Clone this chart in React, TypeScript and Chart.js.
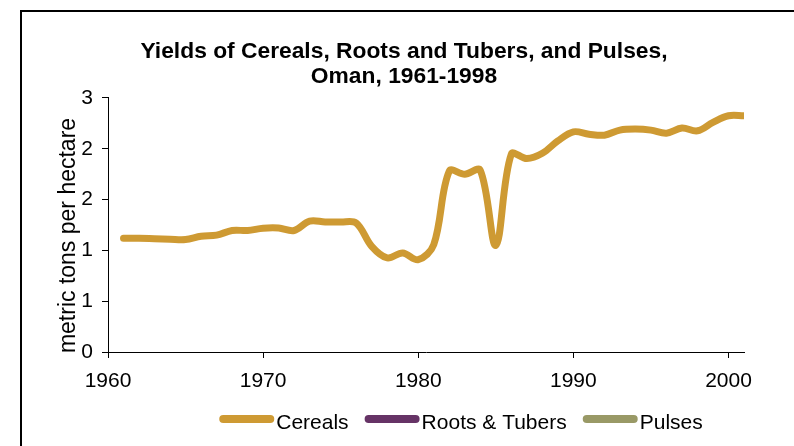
import React, { useEffect, useRef } from "react";
import { Chart, registerables } from "chart.js";

Chart.register(...registerables);

const TITLE_LINES = ["Yields of Cereals, Roots and Tubers, and Pulses,", "Oman, 1961-1998"];
const Y_TITLE = "metric tons per hectare";

const YEARS = [
  1961, 1962, 1963, 1964, 1965, 1966, 1967, 1968, 1969, 1970,
  1971, 1972, 1973, 1974, 1975, 1976, 1977, 1978, 1979, 1980,
  1981, 1982, 1983, 1984, 1985, 1986, 1987, 1988, 1989, 1990,
  1991, 1992, 1993, 1994, 1995, 1996, 1997, 1998, 1999, 2000, 2001,
];

const CEREALS = [
  1.12, 1.12, 1.115, 1.11, 1.107, 1.14, 1.15, 1.196, 1.196, 1.218,
  1.22, 1.196, 1.288, 1.28, 1.28, 1.27, 1.04, 0.926, 0.975, 0.909,
  1.057, 1.78, 1.749, 1.788, 1.05, 1.947, 1.904, 1.956, 2.078, 2.167,
  2.144, 2.134, 2.184, 2.194, 2.184, 2.154, 2.204, 2.177, 2.26, 2.325, 2.325,
];
const ROOTS_TUBERS: number[] = [];
const PULSES: number[] = [];

const SERIES_LABELS = ["Cereals", "Roots & Tubers", "Pulses"];
const SERIES_COLORS = ["#CE9A33", "#663366", "#999966"];

const X_MIN = 1960;
const X_MAX = 2001;
const Y_MAX = 2.5;
const Y_STEP = 0.5;

const FONT = '"Liberation Sans", Arial, sans-serif';

const decorPlugin = {
  id: "decor",
  afterDraw(chart: any) {
    const ctx = chart.ctx as CanvasRenderingContext2D;
    ctx.save();
    // y-axis title
    ctx.fillStyle = "#000";
    ctx.font = `23px ${FONT}`;
    ctx.translate(75, 235.5);
    ctx.rotate(-Math.PI / 2);
    ctx.textAlign = "center";
    ctx.textBaseline = "alphabetic";
    ctx.fillText(Y_TITLE, 0, 0);
    ctx.restore();

    // legend
    ctx.save();
    ctx.font = `21px ${FONT}`;
    const sample = 55;
    const textGap = 2;
    const itemGap = 16;
    const items = chart.data.datasets.map((ds: any) => ({
      text: ds.label as string,
      color: ds.borderColor as string,
      w: ctx.measureText(ds.label).width,
    }));
    const total =
      items.reduce((s: number, it: any) => s + sample + textGap + it.w, 0) +
      itemGap * (items.length - 1);
    let x = 461 - total / 2;
    const cy = 419;
    for (const it of items) {
      ctx.strokeStyle = it.color;
      ctx.lineWidth = 8;
      ctx.lineCap = "round";
      ctx.beginPath();
      ctx.moveTo(x + 4, cy);
      ctx.lineTo(x + sample - 4, cy);
      ctx.stroke();
      ctx.fillStyle = "#000";
      ctx.textAlign = "left";
      ctx.textBaseline = "alphabetic";
      ctx.fillText(it.text, x + sample + textGap, 428.5);
      x += sample + textGap + it.w + itemGap;
    }
    ctx.restore();
  },
};

export default function App() {
  const canvasRef = useRef<HTMLCanvasElement | null>(null);

  useEffect(() => {
    if (!canvasRef.current) return;
    const toPoints = (vals: number[]) => vals.map((v, i) => ({ x: YEARS[i], y: v }));
    const chart = new Chart(canvasRef.current, {
      type: "line",
      data: {
        datasets: [
          { label: SERIES_LABELS[0], data: toPoints(CEREALS), borderColor: SERIES_COLORS[0], backgroundColor: SERIES_COLORS[0] },
          { label: SERIES_LABELS[1], data: toPoints(ROOTS_TUBERS), borderColor: SERIES_COLORS[1], backgroundColor: SERIES_COLORS[1] },
          { label: SERIES_LABELS[2], data: toPoints(PULSES), borderColor: SERIES_COLORS[2], backgroundColor: SERIES_COLORS[2] },
        ],
      },
      options: {
        responsive: false,
        animation: false,
        layout: { padding: { top: 10, left: 64, right: 50, bottom: 0 } },
        elements: {
          line: { borderWidth: 7, tension: 0.35, borderCapStyle: "round", borderJoinStyle: "round", fill: false },
          point: { radius: 0, hoverRadius: 0 },
        },
        plugins: {
          legend: { display: false },
          tooltip: { enabled: false },
          title: {
            display: true,
            text: TITLE_LINES,
            color: "#000",
            font: { family: FONT, size: 22.8, weight: "bold", lineHeight: 1.127 },
            padding: { top: 28.5, bottom: 8.1 },
          },
        },
        scales: {
          x: {
            type: "linear",
            min: X_MIN,
            max: X_MAX,
            afterFit: (s: any) => { s.height = 94; },
            ticks: {
              stepSize: 10,
              includeBounds: false,
              color: "#000",
              padding: 11,
              maxRotation: 0,
              font: { family: FONT, size: 21 },
              callback: (v: any) => String(v),
            },
            grid: { display: true, drawOnChartArea: false, drawTicks: true, tickLength: 6, color: "#000" },
            border: { display: true, color: "#000", width: 1 },
          },
          y: {
            min: 0,
            max: Y_MAX,
            afterFit: (s: any) => { s.width = 44; },
            ticks: {
              stepSize: Y_STEP,
              color: "#000",
              padding: 9,
              font: { family: FONT, size: 21 },
              callback: (v: any) => String(Math.round(Number(v))),
            },
            grid: { display: true, drawOnChartArea: false, drawTicks: true, tickLength: 6, color: "#000" },
            border: { display: true, color: "#000", width: 1 },
          },
        },
      },
      plugins: [decorPlugin],
    });
    return () => chart.destroy();
  }, []);

  return (
    <div style={{ position: "fixed", left: 0, top: 0, width: 794, height: 446, overflow: "hidden", background: "#fff" }}>
      <div style={{ position: "absolute", left: 20, top: 10, width: 1000, height: 1000, borderLeft: "2px solid #000", borderTop: "2px solid #000" }} />
      <canvas ref={canvasRef} width={794} height={446} style={{ position: "absolute", left: 0, top: 0, width: 794, height: 446 }} />
    </div>
  );
}
